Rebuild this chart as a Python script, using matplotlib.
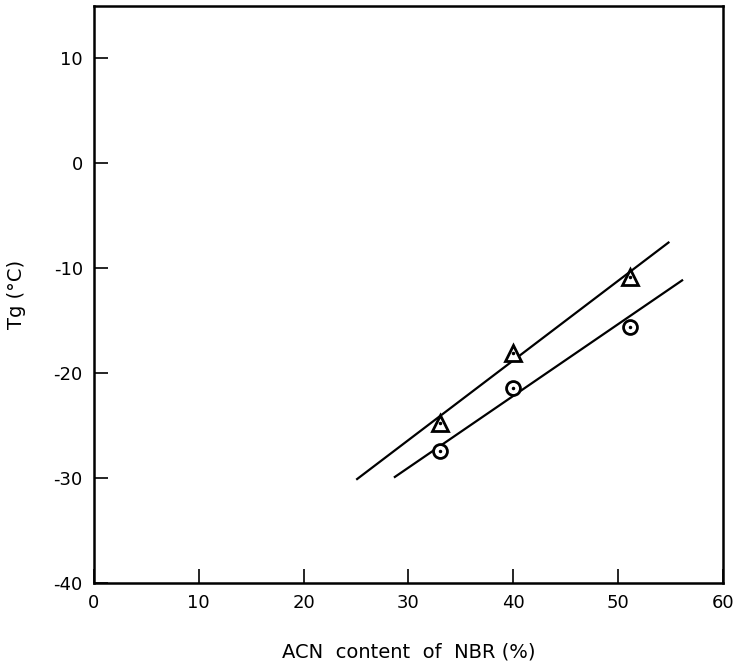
import matplotlib.pyplot as plt
import numpy as np

plt.rcParams['axes.unicode_minus'] = False

# ACN content (%) and Tg (deg C)
acn = [33, 40, 51.1]
tg_triangle = [-24.8, -18.1, -10.9]
tg_circle = [-27.4, -21.4, -15.6]

# fitted straight lines (end points as drawn)
tri_line_x = [25.1, 54.8]
tri_line_y = [-30.1, -7.6]
circ_line_x = [28.7, 56.1]
circ_line_y = [-29.9, -11.2]

x_ticks = [0, 10, 20, 30, 40, 50, 60]
y_ticks = [-40, -30, -20, -10, 0, 10]

fig = plt.figure(figsize=(7.37, 6.71), dpi=100)
ax = fig.add_axes([0.1275, 0.131, 0.8535, 0.86])

ax.plot(tri_line_x, tri_line_y, color='black', lw=1.6)
ax.plot(circ_line_x, circ_line_y, color='black', lw=1.6)

ax.plot(acn, tg_triangle, ls='none', marker='^', ms=11, mfc='white', mec='black', mew=2)
ax.plot(acn, tg_triangle, ls='none', marker='.', ms=3, color='black')
ax.plot(acn, tg_circle, ls='none', marker='o', ms=10, mfc='white', mec='black', mew=2)
ax.plot(acn, tg_circle, ls='none', marker='.', ms=3, color='black')

ax.set_xlim(0, 60)
ax.set_ylim(-40, 14.9)
ax.set_xticks(x_ticks)
ax.set_yticks(y_ticks)
ax.tick_params(direction='in', length=10, width=1.2, labelsize=13, pad=8,
               top=False, right=False)
for s in ax.spines.values():
    s.set_linewidth(1.8)

ax.set_xlabel('ACN  content  of  NBR (%)', fontsize=14, labelpad=22)
ax.set_ylabel('Tg (°C)', fontsize=14, labelpad=20)

fig.savefig('out.png', dpi=100)
